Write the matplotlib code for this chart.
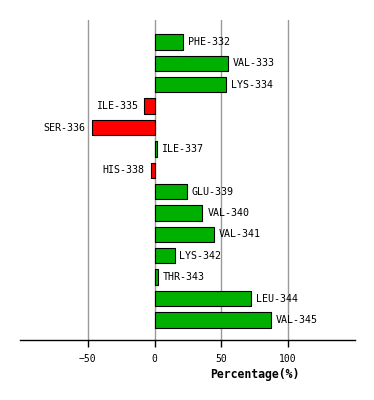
import numpy as np
import matplotlib.pyplot as plt

# 잔기 이름과 값 (%)
residues = ['PHE-332', 'VAL-333', 'LYS-334', 'ILE-335', 'SER-336', 'ILE-337', 'HIS-338',
            'GLU-339', 'VAL-340', 'VAL-341', 'LYS-342', 'THR-343', 'LEU-344', 'VAL-345']
values = [21.5, 55, 53.5, -8, -47, 1.5, -3, 24, 36, 44.5, 15, 2.5, 72.5, 87.5]
ticks = [-50, 0, 50, 100]

plt.rcParams['font.family'] = 'DejaVu Sans Mono'

fig = plt.figure(figsize=(3.74, 4.0), dpi=100)
ax = fig.add_axes([20/374, 60/400, 335/374, 320/400])

y = np.arange(len(residues))
colors = ['#00b000' if v >= 0 else '#ff0000' for v in values]
ax.barh(y, values, height=0.72, color=colors, edgecolor='black', linewidth=0.8, zorder=3)

# 라벨
for yi, v, name in zip(y, values, residues):
    if v >= 0:
        ax.annotate(name, (v, yi), xytext=(3.5, 0), textcoords='offset points',
                    ha='left', va='center', fontsize=7.2)
    else:
        ax.annotate(name, (v, yi), xytext=(-4.5, 0), textcoords='offset points',
                    ha='right', va='center', fontsize=7.2)

ax.set_xlim(-101, 150.5)
ax.set_ylim(len(residues) - 1 + 0.94, -1.03)
ax.set_xticks(ticks)
ax.set_yticks([])
ax.grid(axis='x', color='#999999', linewidth=1.0, zorder=0)
for s in ['top', 'left', 'right']:
    ax.spines[s].set_visible(False)
ax.spines['bottom'].set_linewidth(1.0)
ax.tick_params(axis='x', length=5, width=1, labelsize=7, pad=5)
ax.set_xlabel('Percentage(%)', fontsize=8.3, fontweight='bold', x=0.70, labelpad=3)

fig.savefig('out.png', dpi=100)
